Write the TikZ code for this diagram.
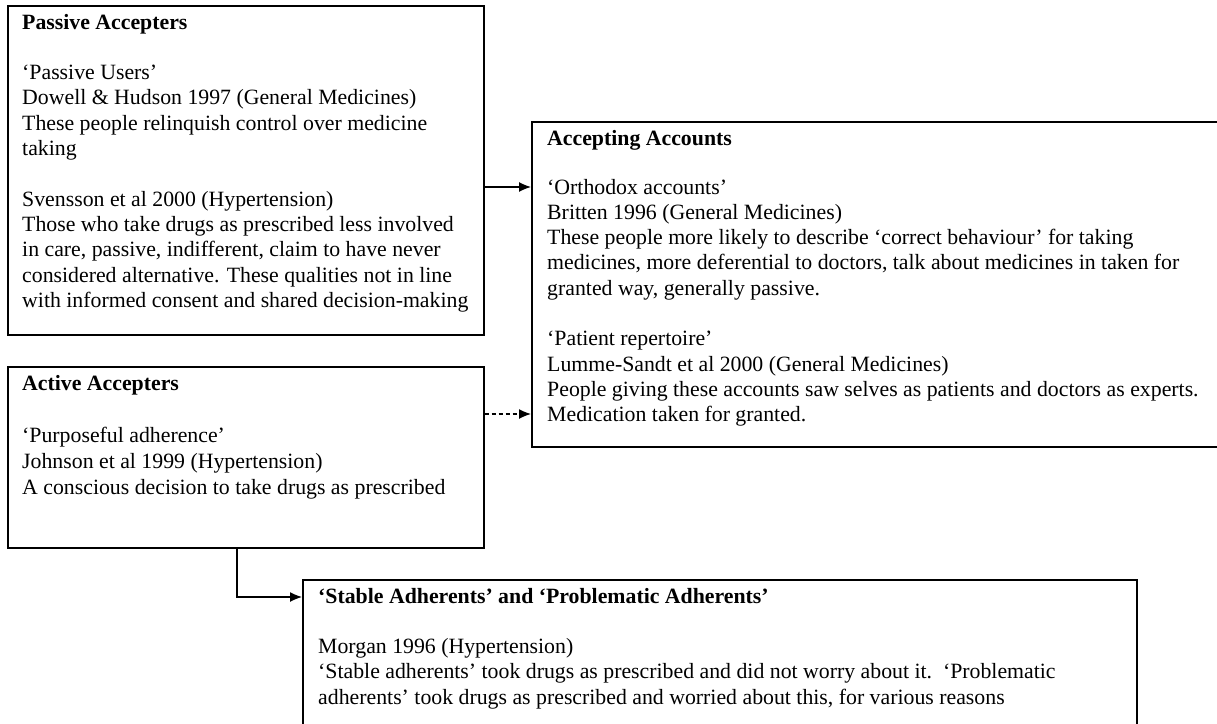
\documentclass[tikz,border=0pt]{standalone}
\usepackage{fontspec}
\setmainfont{Liberation Serif}
\usetikzlibrary{arrows.meta}
\newcommand\txtline[4]{\node[txt] (#1) at (#2,#3) {#4};}
\tikzset{
  txt/.style={anchor=base west, inner sep=0pt, font=\fontsize{21.8}{25}\selectfont},
  boxnode/.style={draw, line width=1.7pt, anchor=north west, inner sep=0pt},
  arr/.style={line width=1.3pt, -{Latex[length=12pt,width=10pt]}},
  dasharr/.style={arr, dash pattern=on 4pt off 3pt}
}
\begin{document}
\begin{tikzpicture}[x=1pt,y=-1pt]
\useasboundingbox (0,0) rectangle (1217,723);
\clip (0,0) rectangle (1217,723);
% boxes
\node[boxnode, minimum width=476pt, minimum height=329pt] (P) at (7,5) {};
\node[boxnode, minimum width=700pt, minimum height=325pt] (A) at (531,121) {};
\node[boxnode, minimum width=476pt, minimum height=181pt] (Act) at (7,366) {};
\node[boxnode, minimum width=834pt, minimum height=200pt] (B) at (302,579) {};
% passive accepters
\txtline{p0}{22}{29}{\textbf{Passive Accepters}}
\txtline{p1}{22}{79.6}{‘Passive Users’}
\txtline{p2}{22}{104.9}{Dowell \& Hudson 1997 (General Medicines)}
\txtline{p3}{22}{130.2}{These people relinquish control over medicine}
\txtline{p4}{22}{155.5}{taking}
\txtline{p5}{22}{206}{Svensson et al 2000 (Hypertension)}
\txtline{p6}{22}{231.4}{Those who take drugs as prescribed less involved}
\txtline{p7}{22}{256.7}{in care, passive, indifferent, claim to have never}
\txtline{p8}{22}{282}{considered alternative. These qualities not in line}
\txtline{p9}{22}{307.3}{with informed consent and shared decision-making}
% accepting accounts
\txtline{a0}{547}{145}{\textbf{Accepting Accounts}}
\txtline{a1}{547}{194}{‘Orthodox accounts’}
\txtline{a2}{547}{219.3}{Britten 1996 (General Medicines)}
\txtline{a3}{547}{244.6}{These people more likely to describe ‘correct behaviour’ for taking}
\txtline{a4}{547}{269.9}{medicines, more deferential to doctors, talk about medicines in taken for}
\txtline{a5}{547}{295.2}{granted way, generally passive.}
\txtline{a6}{547}{345.8}{‘Patient repertoire’}
\txtline{a7}{547}{371.1}{Lumme-Sandt et al 2000 (General Medicines)}
\txtline{a8}{547}{396.4}{People giving these accounts saw selves as patients and doctors as experts.}
\txtline{a9}{547}{421.7}{Medication taken for granted.}
% active accepters
\txtline{c0}{22}{390}{\textbf{Active Accepters}}
\txtline{c1}{22}{442}{‘Purposeful adherence’}
\txtline{c2}{22}{468}{Johnson et al 1999 (Hypertension)}
\txtline{c3}{22}{494}{A conscious decision to take drugs as prescribed}
% stable / problematic
\txtline{b0}{318}{603}{\textbf{‘Stable Adherents’ and ‘Problematic Adherents’}}
\txtline{b1}{318}{653.6}{Morgan 1996 (Hypertension)}
\txtline{b2}{318}{678.9}{‘Stable adherents’ took drugs as prescribed and did not worry about it.\ \ ‘Problematic}
\txtline{b3}{318}{704.2}{adherents’ took drugs as prescribed and worried about this, for various reasons}
% connectors
\coordinate (ya) at (0,187);
\coordinate (yb) at (0,414);
\coordinate (xc) at (237,0);
\coordinate (yc) at (0,597);
\draw[arr] (P.east |- ya) -- (A.west |- ya);
\draw[dasharr] (Act.east |- yb) -- (A.west |- yb);
\draw[arr] (Act.south -| xc) |- (B.west |- yc);
\end{tikzpicture}
\end{document}
